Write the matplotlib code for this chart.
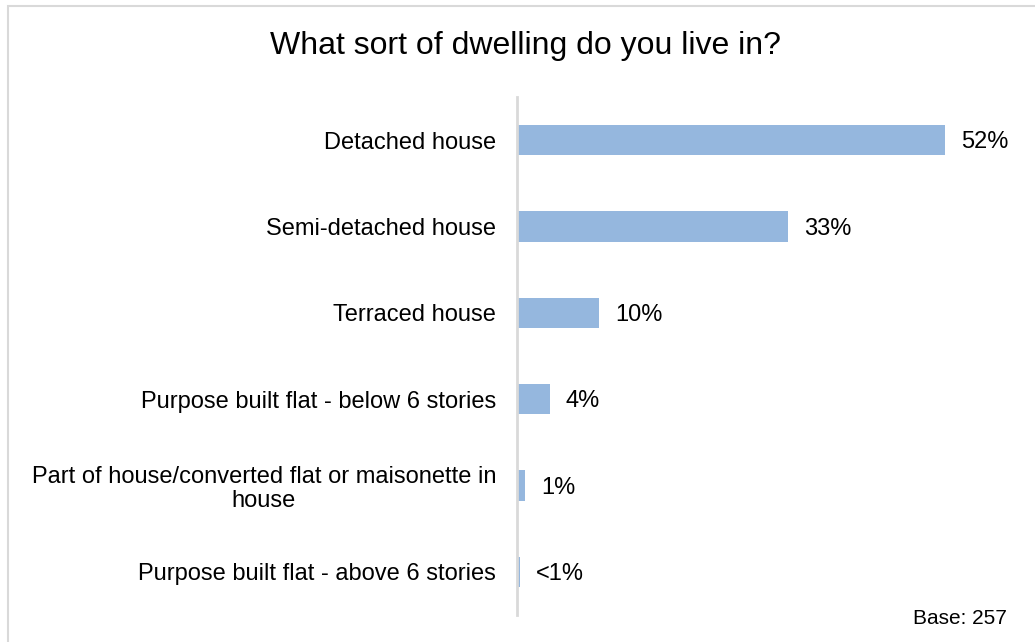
import matplotlib
matplotlib.use("Agg")
import matplotlib.pyplot as plt
from matplotlib.patches import Rectangle

plt.rcParams['font.family'] = ['Liberation Sans', 'DejaVu Sans']

categories = [
    "Detached house",
    "Semi-detached house",
    "Terraced house",
    "Purpose built flat - below 6 stories",
    "Part of house/converted flat or maisonette in\nhouse",
    "Purpose built flat - above 6 stories",
]
values = [52, 33, 10, 4, 1, 0.4]
value_labels = ["52%", "33%", "10%", "4%", "1%", "<1%"]
title = "What sort of dwelling do you live in?"
base_note = "Base: 257"

W, H = 1035, 642
fig = plt.figure(figsize=(W / 100, H / 100), dpi=100)

# light grey frame around the chart area
fig.patches.append(Rectangle((8 / W, -0.05), 1.2, 1 - 6 / H + 0.05,
                             transform=fig.transFigure, fill=False,
                             edgecolor="#D9D9D9", linewidth=1.5))

ax = fig.add_axes([517 / W, 1 - 615 / H, (994 - 517) / W, (615 - 97) / H])

y = list(range(len(categories)))
ax.barh(y, values, height=0.35, color="#95B7DE", edgecolor="none")
ax.set_ylim(len(categories) - 0.5, -0.5)
ax.set_xlim(0, 58)

for yi, v, lab in zip(y, values, value_labels):
    ax.annotate(lab, (v, yi), xytext=(11.5, -1.5), textcoords="offset points",
                ha="left", va="center", fontsize=17, color="#000000")

ax.set_yticks(y)
ax.set_yticklabels(categories, fontsize=17, multialignment="center",
                   linespacing=1.1)
ax.tick_params(axis="y", length=0, pad=15)
ax.set_xticks([])

for s in ["top", "right", "bottom"]:
    ax.spines[s].set_visible(False)
ax.spines["left"].set_color("#D9D9D9")
ax.spines["left"].set_linewidth(2)

fig.text(526 / W, 1 - 46 / H, title, ha="center", va="center", fontsize=23)
fig.text(1007 / W, 1 - 619 / H, base_note, ha="right", va="center", fontsize=15)

fig.savefig("out.png", dpi=100)
